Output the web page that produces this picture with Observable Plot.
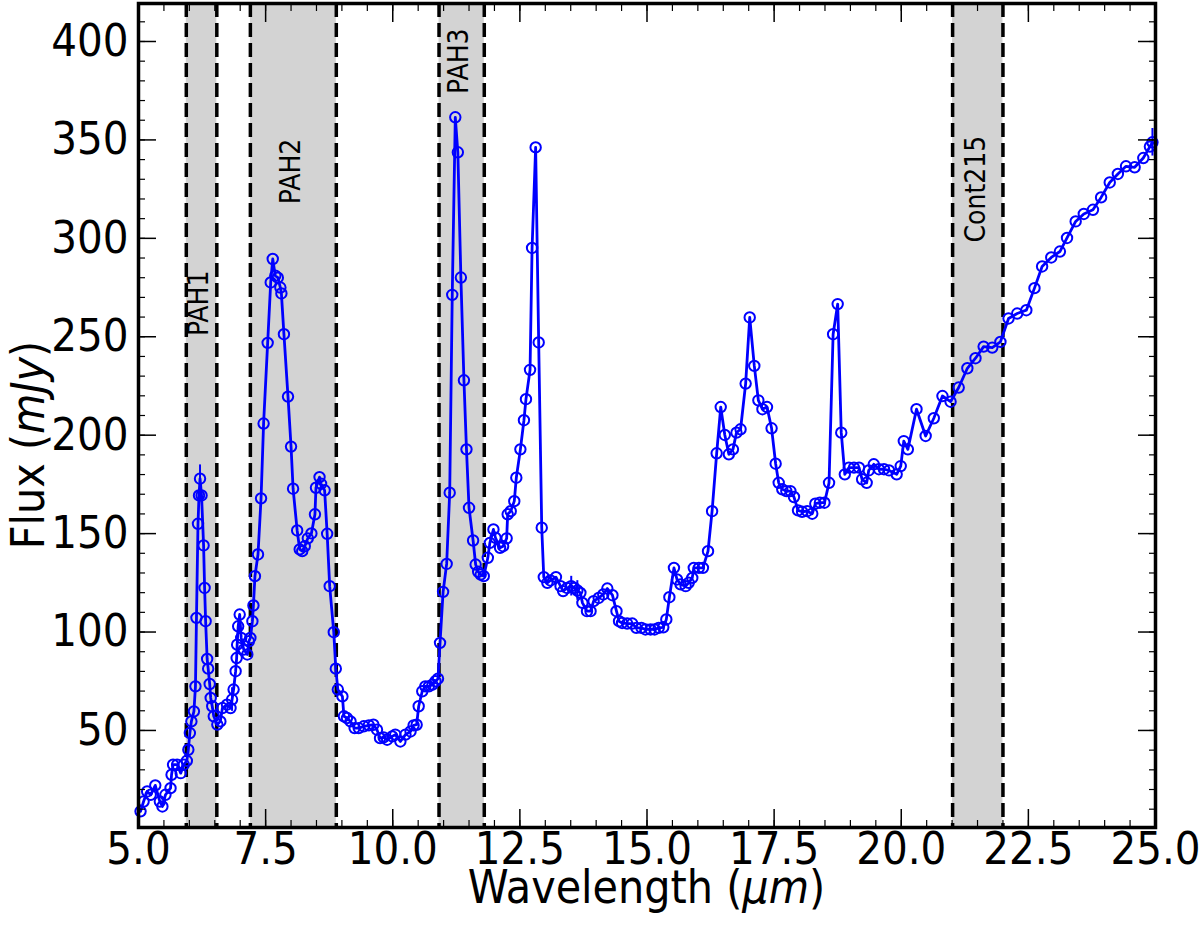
<!DOCTYPE html>
<html><head><meta charset="utf-8">
<script src="https://cdn.jsdelivr.net/npm/d3@7"></script>
<script src="https://cdn.jsdelivr.net/npm/@observablehq/plot@0.6"></script>
<style>body{margin:0;background:#fff;} #chart{width:1200px;height:926px;}</style>
</head><body><div id="chart"></div>
<script>
const wavelength = [5.04,5.10,5.17,5.24,5.33,5.42,5.47,5.53,5.63,5.65,5.68,5.76,5.83,5.89,5.95,5.98,6.01,6.04,6.09,6.12,6.14,6.17,6.19,6.21,6.24,6.28,6.30,6.32,6.35,6.37,6.40,6.42,6.45,6.48,6.55,6.61,6.65,6.74,6.81,6.84,6.87,6.91,6.93,6.94,6.96,6.99,7.02,7.07,7.14,7.17,7.20,7.24,7.26,7.29,7.35,7.41,7.46,7.54,7.60,7.64,7.69,7.74,7.79,7.81,7.86,7.94,8.00,8.04,8.12,8.17,8.22,8.27,8.33,8.40,8.47,8.49,8.56,8.59,8.66,8.71,8.76,8.84,8.88,8.92,9.01,9.04,9.10,9.17,9.25,9.33,9.43,9.53,9.62,9.69,9.75,9.82,9.89,9.99,10.05,10.15,10.25,10.35,10.41,10.47,10.51,10.58,10.64,10.71,10.78,10.84,10.89,10.93,10.99,11.06,11.12,11.17,11.23,11.28,11.34,11.40,11.45,11.50,11.58,11.63,11.68,11.73,11.79,11.87,11.91,11.98,12.02,12.11,12.17,12.24,12.26,12.32,12.39,12.43,12.51,12.58,12.62,12.70,12.74,12.81,12.87,12.93,12.97,13.04,13.10,13.21,13.30,13.35,13.43,13.51,13.57,13.63,13.69,13.73,13.82,13.89,13.95,14.05,14.14,14.22,14.32,14.40,14.45,14.51,14.61,14.71,14.79,14.89,14.97,15.07,15.15,15.23,15.32,15.38,15.44,15.53,15.59,15.66,15.76,15.82,15.89,15.92,16.02,16.10,16.20,16.28,16.37,16.45,16.53,16.61,16.69,16.76,16.84,16.94,17.02,17.11,17.19,17.27,17.36,17.45,17.53,17.59,17.66,17.74,17.82,17.89,17.97,18.05,18.15,18.25,18.31,18.40,18.49,18.58,18.66,18.75,18.82,18.89,18.97,19.07,19.17,19.23,19.32,19.36,19.46,19.56,19.66,19.76,19.91,19.99,20.05,20.13,20.30,20.48,20.64,20.81,20.97,21.13,21.30,21.46,21.62,21.79,21.95,22.11,22.28,22.46,22.62,22.77,22.95,23.12,23.26,23.43,23.59,23.77,23.93,24.10,24.26,24.42,24.59,24.76,24.89,24.94];
const flux = [8.9,13.9,19.0,17.3,22.1,13.9,11.4,17.3,20.7,27.5,32.6,32.6,28.3,32.6,34.6,40.2,48.7,54.6,59.7,72.4,107.2,155,169.4,177.9,169.4,144,122.4,105.5,86.3,81.4,73.6,66.5,62.3,57.2,53,54.6,61.4,63.1,61.4,65.7,70.8,80.1,86.8,93.6,102.9,108.9,97,91.1,88.6,95.3,97,105.5,113.5,128.4,139.4,167.9,205.9,246.9,277.6,289.5,281,280,275,272,251.3,219.6,194.2,172.8,151.6,142,141.1,143.6,147.6,150.1,159.8,173.3,178.7,175.3,172,149.9,123.3,99.9,81.4,70.8,67.3,57.2,56.3,54.6,51.2,51.2,52.1,52.6,52.9,50.4,46.1,46.5,45.3,47,47.9,44.4,47.9,49.5,52.6,52.9,62.3,69.9,72.4,72.4,73.3,75,76.3,94.5,120.4,134.6,170.8,271.3,361.5,343.7,280.1,227.9,192.8,163.1,146.5,134.3,130.6,129.2,128.4,137.7,145.3,152.1,147.9,142.8,143.6,147.6,159.8,161.4,166.5,178.4,192.8,207.6,218.3,233.2,295.1,346.2,247.1,153,127.9,125,126.2,127.9,123.3,120.8,122.4,123.3,122.4,121.1,119.9,114.8,110.6,110.6,115.7,117.3,119.1,122.1,118.7,110.6,105.5,104.6,104.3,104.3,102.1,102.1,101.3,101.3,101.3,102.1,102.4,106.4,117.7,132.6,126.7,124.2,123.3,125,127.5,132.6,132.6,132.6,141.1,161.4,190.8,214.3,200.1,190.3,192.8,201.3,203,226.2,259.8,235.2,217.7,213.2,214.3,203.5,185.5,175.8,172.5,171.6,171.6,168.6,161.8,161.1,161.4,160.1,165.2,165.7,165.7,175.8,251.3,266.6,201.3,180.1,183.5,183.5,183.5,177.6,175.8,182.1,185.2,182.7,182.7,182.1,180.1,184.3,197,192.8,213.2,199.6,208.6,219.9,217,224.2,234,239.1,245,244.5,247.4,259.3,261.8,263.5,274.7,285.7,290.3,293.3,300.2,308.6,312.4,314.5,320.8,328.4,332.7,336.6,336.1,340.8,346.6,348.8];

const errWave = [6.21, 6.84, 13.51, 13.63, 24.94];
const errFlux = [177.9, 65.7, 123.3, 121.1, 348.8];
const errHalf = [7, 6, 5, 5, 7];

const bandNames = ["PAH1", "PAH2", "PAH3", "Cont215"];
const bandStart = [5.94, 7.20, 10.91, 21.01];
const bandEnd = [6.54, 8.89, 11.80, 22.00];
const bandLabelX = [6.20, 8.00, 11.31, 21.48];
const bandLabelY = [267, 334, 390, 325];

const xMajor = [5, 7.5, 10, 12.5, 15, 17.5, 20, 22.5, 25];
const xMinor = d3.range(5, 25.01, 0.5);
const yMajor = [50, 100, 150, 200, 250, 300, 350, 400];
const yMinor = d3.range(10, 420, 10);
const xDomain = [5, 25];
const yDomain = [0.7, 419.3];

const points = wavelength.map((w, i) => ({w, f: flux[i]}));
const bands = bandNames.map((n, i) => ({n, x1: bandStart[i], x2: bandEnd[i], lx: bandLabelX[i], ly: bandLabelY[i]}));
const errs = errWave.map((w, i) => ({w, lo: errFlux[i] - errHalf[i], hi: errFlux[i] + errHalf[i]}));
const edges = [...bandStart, ...bandEnd];

const FONT = "DejaVu Sans Condensed, DejaVu Sans";
const blue = "#0000ff";
const tickAxes = [];
for (const anchor of ["bottom", "top"]) {
  tickAxes.push(Plot.axisX({anchor, ticks: xMajor, tickSize: -18, strokeWidth: 1.5, text: null, label: null}));
  tickAxes.push(Plot.axisX({anchor, ticks: xMinor, tickSize: -7, strokeWidth: 1.2, text: null, label: null}));
}
for (const anchor of ["left", "right"]) {
  tickAxes.push(Plot.axisY({anchor, ticks: yMajor, tickSize: -18, strokeWidth: 1.5, text: null, label: null}));
  tickAxes.push(Plot.axisY({anchor, ticks: yMinor, tickSize: -7, strokeWidth: 1.2, text: null, label: null}));
}

const svg = Plot.plot({
  width: 1200,
  height: 926,
  marginLeft: 138,
  marginRight: 45,
  marginTop: 3,
  marginBottom: 99,
  style: {fontFamily: FONT, fontSize: "45px", background: "white", color: "black", overflow: "visible"},
  x: {domain: xDomain},
  y: {domain: yDomain},
  marks: [
    Plot.rect(bands, {x1: "x1", x2: "x2", y1: yDomain[0], y2: yDomain[1], fill: "#d3d3d3"}),
    Plot.ruleX(edges, {x: d => d, stroke: "black", strokeWidth: 3.5, strokeDasharray: "14,6"}),
    Plot.text(bands, {x: "lx", y: "ly", text: "n", rotate: -90, fontSize: 28, fill: "black", textAnchor: "middle", lineAnchor: "middle"}),
    Plot.ruleX(errs, {x: "w", y1: "lo", y2: "hi", stroke: blue, strokeWidth: 2}),
    Plot.line(points, {x: "w", y: "f", stroke: blue, strokeWidth: 2.8}),
    Plot.dot(points, {x: "w", y: "f", r: 5.2, stroke: blue, strokeWidth: 2, fill: "none"}),
    Plot.axisX({anchor: "bottom", ticks: xMajor, tickSize: 0, tickPadding: 5, tickFormat: d => d.toFixed(1), fontSize: 45, label: null}),
    Plot.axisY({anchor: "left", ticks: yMajor, tickSize: 0, tickPadding: 10, tickFormat: d => String(d), fontSize: 45, label: null}),
    ...tickAxes,
    Plot.frame({stroke: "black", strokeWidth: 3.5})
  ]
});

const s = d3.select(svg);
const xl = s.append("text")
  .attr("x", (138 + 1155) / 2).attr("y", 903)
  .attr("text-anchor", "middle")
  .attr("font-family", FONT).attr("font-size", 46).attr("fill", "black");
xl.append("tspan").text("Wavelength (");
xl.append("tspan").attr("font-style", "italic").text("μm");
xl.append("tspan").text(")");

const yl = s.append("text")
  .attr("transform", "translate(44,445) rotate(-90)")
  .attr("text-anchor", "middle")
  .attr("font-family", FONT).attr("font-size", 46).attr("fill", "black");
yl.append("tspan").text("Flux (");
yl.append("tspan").attr("font-style", "italic").text("mJy");
yl.append("tspan").text(")");

document.getElementById("chart").appendChild(svg);
</script>
</body></html>
